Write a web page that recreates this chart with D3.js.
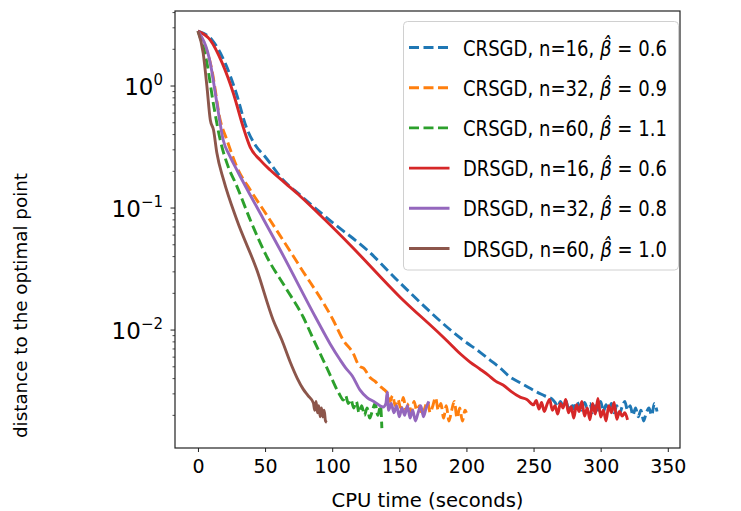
<!DOCTYPE html>
<html>
<head>
<meta charset="utf-8">
<script src="https://cdn.jsdelivr.net/npm/d3@7"></script>
<style>
  body { margin: 0; background: #fff; }
  text { font-family: "DejaVu Sans", sans-serif; fill: #000; }
</style>
</head>
<body>
<svg id="chart" width="741" height="511"></svg>
<script>
// ---- data: [CPU seconds, distance] ----
const crsgd16 = [[0,2.82],[10.6,2.38],[20.3,1.54],[28.5,0.877],[36,0.461],[42.7,0.328],[50.2,0.262],[63.5,0.17],[76,0.128],[100.8,0.0753],[126,0.0453],[150.6,0.0243],[197.5,0.00828],[210,0.0066],[217.6,0.00568],[225,0.0049],[232.5,0.00412],[240,0.0037],[246,0.0034],[252.6,0.0031],[258,0.0029],[264.5,0.00267],
  [266,0.00255],[268,0.00235],[270,0.0026],[272,0.0024],[274,0.00265],[276,0.0023],[278,0.0025],[280,0.00225],[282,0.0026],[284,0.0024],[286,0.0022],[288,0.00255],[290,0.0023],[292,0.0025],[294,0.0021],[296,0.0024],[298,0.0022],[300,0.0026],[302,0.00215],[304,0.00245],[306,0.0022],[308,0.0025],[310,0.0021],[312,0.0024],[314,0.00205],[316,0.00235],[318,0.0026],[320,0.0022],[322,0.0024],[324,0.002],[326,0.0023],[328,0.00195],[330,0.0022],[332,0.0018],[334,0.0021],[336,0.0023],[338,0.002],[340,0.0025],[342,0.00215]];
const crsgd32 = [[0,2.82],[10.4,1.35],[16.6,0.526],[21.6,0.361],[29,0.217],[38.9,0.141],[48.8,0.0963],[76.2,0.0328],[100.7,0.0121],[108.2,0.00828],[115.6,0.00647],[120,0.0051],[124,0.0048],[128,0.0041],[132,0.0038],[135,0.0035],[138,0.0033],
  [141,0.00305],[143,0.0026],[145,0.0029],[147,0.0024],[149,0.0027],[151,0.0023],[153,0.0028],[155,0.0022],[157,0.0025],[159,0.0021],[161,0.0026],[163,0.0022],[165,0.0024],[167,0.002],[169,0.0023],[171,0.0026],[173,0.0021],[175,0.0024],[177,0.0028],[179,0.0022],[181,0.0025],[183,0.0019],[185,0.0024],[187,0.0018],[189,0.0022],[191,0.0026],[193,0.0019],[195,0.0023],[197,0.0018],[199,0.0022],[200,0.0021]];
const crsgd60 = [[0,2.82],[6.7,1.54],[11.4,0.726],[16.6,0.361],[22.6,0.217],[28,0.16],[40,0.075],[51.4,0.0397],[65,0.0225],[78.4,0.0128],[86,0.0084],[93.3,0.00568],[98,0.0044],[103.7,0.00322],[106,0.0029],
  [108.2,0.00267],[110,0.0029],[112,0.0025],[114,0.0027],[116,0.0023],[118,0.0026],[120,0.0021],[122,0.0024],[124,0.002],[126,0.0023],[128,0.0019],[130,0.0022],[132,0.0025],[134,0.002],[136,0.0024],[137,0.00157]];
const drsgd16 = [[0,2.82],[9.2,2.38],[18.1,1.54],[26.3,0.877],[33.7,0.461],[38.9,0.316],[46.4,0.247],[53.8,0.205],[65,0.16],[76.2,0.125],[94.8,0.0797],[113.4,0.0498],[150.6,0.0186],[182.6,0.00877],[190,0.0073],[196,0.0063],[202.7,0.00547],[210,0.0048],[216,0.0043],[222,0.0038],[227.3,0.00354],[234,0.0031],[240,0.00282],[245,0.0027],
  [250,0.00244],[252,0.00265],[254,0.00225],[256,0.00255],[258,0.00215],[260,0.00245],[262,0.0027],[264,0.0022],[266,0.0024],[268,0.00205],[270,0.0025],[272,0.0023],[274,0.0027],[276,0.0021],[278,0.00235],[280,0.0019],[282,0.00245],[284,0.00215],[286,0.0026],[288,0.00197],[290,0.0023],[292,0.00184],[294,0.0025],[296,0.00205],[298,0.00275],[300,0.00194],[302,0.0022],[304,0.0018],[306,0.0024],[308,0.0021],[310,0.00255],[312,0.00186],[314,0.00215],[316,0.00197],[318,0.0021],[320,0.00184]];
const drsgd32 = [[0,2.82],[9.2,1.54],[14.1,0.726],[18.8,0.361],[23.5,0.27],[29,0.205],[48.8,0.081],[61.3,0.0453],[88,0.0125],[98.5,0.0077],[106,0.00568],[110,0.0049],[115,0.0042],[120.8,0.00322],[126,0.0028],[131,0.0026],
  [138,0.00234],[140,0.0025],[141,0.0031],[142,0.0022],[144,0.0025],[146,0.0021],[148,0.0024],[150,0.00195],[152,0.0023],[154,0.002],[156,0.0024],[158,0.0019],[160,0.0022],[162,0.0018],[164,0.0021],[166,0.0024],[168,0.00195],[170,0.0023],[172,0.0026]];
const drsgd60 = [[0,2.82],[3.9,1.86],[6.7,0.987],[9.2,0.526],[11.6,0.436],[14.1,0.282],[19.1,0.17],[29,0.0797],[43.9,0.031],[56,0.0121],[62.5,0.00828],[68.7,0.00547],[73.9,0.00404],[78.4,0.00328],[82,0.0029],
  [86,0.00252],[87,0.0022],[88,0.0026],[89,0.0021],[90,0.0024],[91,0.00195],[92,0.0023],[93,0.00194],[94,0.0022],[95,0.0018],[96,0.00175]];

const seriesNames = ["CRSGD", "CRSGD", "CRSGD", "DRSGD", "DRSGD", "DRSGD"];
const seriesN = [16, 32, 60, 16, 32, 60];
const seriesBeta = ["0.6", "0.9", "1.1", "0.6", "0.8", "1.0"];
const seriesData = [crsgd16, crsgd32, crsgd60, drsgd16, drsgd32, drsgd60];
const seriesColor = ["#1f77b4", "#ff7f0e", "#2ca02c", "#d62728", "#9467bd", "#8c564b"];
const seriesDashed = [true, true, true, false, false, false];

const xTicks = [0, 50, 100, 150, 200, 250, 300, 350];
const yTicks = [1e-2, 1e-1, 1];
const yTickExp = ["\u22122", "\u22121", "0"];

// ---- layout ----
const plotLeft = 175, plotRight = 680, plotTop = 11, plotBottom = 448;
const svg = d3.select("#chart");

const x = d3.scaleLinear().domain([-17.1, 359.1]).range([plotLeft, plotRight]);
const y = d3.scaleLog().domain([0.00108, 4.12]).range([plotBottom, plotTop]);

svg.append("clipPath").attr("id", "plotclip")
  .append("rect").attr("x", plotLeft).attr("y", plotTop)
  .attr("width", plotRight - plotLeft).attr("height", plotBottom - plotTop);

const line = d3.line()
  .x(d => x(d[0]))
  .y(d => y(d[1]))
  .curve(d3.curveMonotoneX);

const plot = svg.append("g").attr("clip-path", "url(#plotclip)");
seriesData.forEach((data, i) => {
  plot.append("path")
    .datum(data)
    .attr("d", line)
    .attr("fill", "none")
    .attr("stroke", seriesColor[i])
    .attr("stroke-width", 2.9)
    .attr("stroke-linejoin", "round")
    .attr("stroke-dasharray", seriesDashed[i] ? "10,4.5" : null);
});

// ---- axes ----
const xAxis = svg.append("g")
  .attr("transform", `translate(0,${plotBottom})`)
  .call(d3.axisBottom(x).tickValues(xTicks).tickSize(4).tickPadding(8).tickFormat(d3.format("d")));
xAxis.select(".domain").remove();
xAxis.selectAll("line").attr("stroke", "#222").attr("stroke-width", 1);
xAxis.selectAll("text").attr("font-size", 19).attr("font-family", "DejaVu Sans");

// minor y ticks
const minor = [];
[1e-3, 1e-2, 1e-1, 1].forEach(dec => {
  for (let k = 2; k <= 9; k++) {
    const v = dec * k;
    if (v > y.domain()[0] && v < y.domain()[1]) minor.push(v);
  }
});
svg.append("g").selectAll("line").data(minor).join("line")
  .attr("x1", plotLeft - 2.5).attr("x2", plotLeft)
  .attr("y1", d => y(d)).attr("y2", d => y(d))
  .attr("stroke", "#222").attr("stroke-width", 0.8);

const yMajor = svg.append("g");
yMajor.selectAll("line").data(yTicks).join("line")
  .attr("x1", plotLeft - 4.5).attr("x2", plotLeft)
  .attr("y1", d => y(d)).attr("y2", d => y(d))
  .attr("stroke", "#222").attr("stroke-width", 1);

yTicks.forEach((v, i) => {
  const t = yMajor.append("text")
    .attr("x", plotLeft - 12)
    .attr("y", y(v) + 8.5)
    .attr("text-anchor", "end")
    .attr("font-size", 23);
  t.append("tspan").text("10");
  t.append("tspan").attr("dy", -10).attr("font-size", 15).text(yTickExp[i]);
});

// frame
svg.append("rect")
  .attr("x", plotLeft).attr("y", plotTop)
  .attr("width", plotRight - plotLeft).attr("height", plotBottom - plotTop)
  .attr("fill", "none").attr("stroke", "#222").attr("stroke-width", 1.2);

// axis labels
svg.append("text")
  .attr("x", 331.5)
  .attr("y", 506.5)
  .attr("font-size", 19.5)
  .attr("textLength", 192)
  .attr("lengthAdjust", "spacingAndGlyphs")
  .text("CPU time (seconds)");

svg.append("text")
  .attr("transform", "translate(26.5,438) rotate(-90)")
  .attr("font-size", 17.5)
  .attr("textLength", 265)
  .attr("lengthAdjust", "spacingAndGlyphs")
  .text("distance to the optimal point");

// ---- legend ----
const legend = svg.append("g");
legend.append("rect")
  .attr("x", 403.5).attr("y", 21.5)
  .attr("width", 275).attr("height", 248.5)
  .attr("rx", 4)
  .attr("fill", "#fff").attr("fill-opacity", 0.85)
  .attr("stroke", "#d0d0d0").attr("stroke-width", 1);

const labelWidth = 204;
seriesData.forEach((data, i) => {
  const cy = 47.5 + i * 40.2;
  legend.append("line")
    .attr("x1", 409).attr("x2", 449.5)
    .attr("y1", cy).attr("y2", cy)
    .attr("stroke", seriesColor[i])
    .attr("stroke-width", 2.9)
    .attr("stroke-dasharray", seriesDashed[i] ? "10,4.5" : null);

  const g = legend.append("g");
  const label = g.append("text").attr("font-size", 21);
  label.append("tspan").text(`${seriesNames[i]}, n=${seriesN[i]}, `);
  // beta with a combining circumflex as its hat
  label.append("tspan").attr("font-style", "italic").text("\u03b2\u0302");
  label.append("tspan").text(` = ${seriesBeta[i]}`);

  const bb = label.node().getBBox();
  const sx = labelWidth / (bb.x + bb.width);
  g.attr("transform", `translate(463,${cy + 8}) scale(${sx},1)`);
});
</script>
</body>
</html>
